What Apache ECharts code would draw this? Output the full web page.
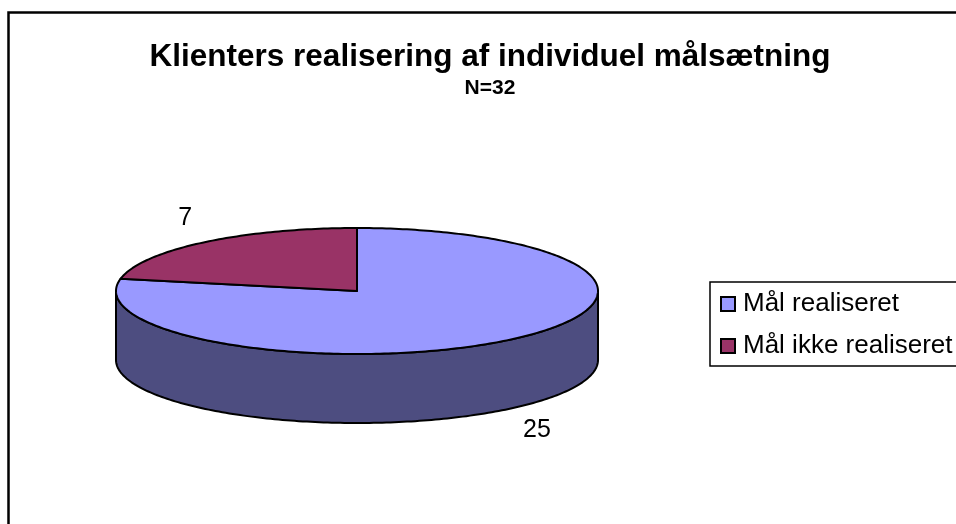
<!DOCTYPE html>
<html>
<head>
<meta charset="utf-8">
<style>html,body{margin:0;padding:0;background:#fff}#c{width:956px;height:524px}</style>
<script src="https://cdn.jsdelivr.net/npm/echarts@6/dist/echarts.min.js"></script>
</head>
<body>
<div id="c"></div>
<script>
const categories = ['Mål realiseret', 'Mål ikke realiseret'];
const values = [25, 7];
const titleText = 'Klienters realisering af individuel målsætning';
const subtitleText = 'N=32';

const colors = ['#9999ff', '#993366'];
const wallColors = ['#4d4d80', '#4d1a33'];
const FONT = '"Liberation Sans", Arial, sans-serif';
const CX = 357, CY = 291, RX = 241, RY = 63, DEPTH = 69;
const labelOffsets = [[27, 21], [-19, -24]];

const total = values.reduce((a, b) => a + b, 0);
const toPoint = (deg, dy) => {
  const a = deg * Math.PI / 180;
  return [CX + RX * Math.sin(a), CY + dy - RY * Math.cos(a)];
};
const arc = (from, to, dy) => {
  const n = Math.max(2, Math.ceil(Math.abs(to - from)));
  const pts = [];
  for (let i = 0; i <= n; i++) pts.push(toPoint(from + (to - from) * i / n, dy));
  return pts;
};
const startOf = i => values.slice(0, i).reduce((a, b) => a + b, 0) / total * 360;

function renderSlice(i) {
  return function (params, api) {
    const v = api.value(0);
    const start = startOf(i), end = start + v / total * 360;
    const children = [];
    const wallFrom = Math.max(start, 90), wallTo = Math.min(end, 270);
    if (wallTo > wallFrom) {
      const wall = arc(wallFrom, wallTo, 0).concat(arc(wallTo, wallFrom, DEPTH));
      children.push({
        type: 'polygon', shape: { points: wall },
        style: { fill: wallColors[i], stroke: '#000', lineWidth: 2, lineJoin: 'round' }
      });
    }
    const top = [[CX, CY]].concat(arc(start, end, 0));
    children.push({
      type: 'polygon', shape: { points: top },
      style: { fill: colors[i], stroke: '#000', lineWidth: 2, lineJoin: 'round' }
    });
    const mid = (start + end) / 2;
    const isFront = mid > 90 && mid < 270;
    const p = toPoint(mid, isFront ? DEPTH : 0);
    children.push({
      type: 'text',
      style: {
        text: String(v), x: p[0] + labelOffsets[i][0], y: p[1] + labelOffsets[i][1],
        fill: '#000', font: '25px ' + FONT, align: 'center', verticalAlign: 'middle'
      }
    });
    return { type: 'group', children };
  };
}

const chart = echarts.init(document.getElementById('c'), null, { renderer: 'canvas' });
chart.setOption({
  animation: false,
  backgroundColor: '#fff',
  color: colors,
  graphic: [{
    type: 'rect', z: -10, silent: true,
    shape: { x: 8.5, y: 12.5, width: 960, height: 530 },
    style: { fill: '#fff', stroke: '#000', lineWidth: 2.5 }
  }],
  title: [
    { text: titleText, left: 485, top: 36, textAlign: 'center',
      textStyle: { fontFamily: FONT, fontWeight: 'bold', fontSize: 31.5, color: '#000' } },
    { text: subtitleText, left: 485, top: 73, textAlign: 'center',
      textStyle: { fontFamily: FONT, fontWeight: 'bold', fontSize: 21, color: '#000' } }
  ],
  legend: {
    orient: 'vertical', left: 710, top: 282,
    data: categories,
    padding: [7, 14, 5, 10], itemGap: 12, itemWidth: 14, itemHeight: 14,
    borderColor: '#000', borderWidth: 1.5, backgroundColor: '#fff',
    icon: 'rect',
    textStyle: { fontFamily: FONT, fontSize: 26, lineHeight: 30, color: '#000', padding: [0, 0, 0, 3] },
    itemStyle: { borderColor: '#000', borderWidth: 2 },
    selectedMode: false
  },
  series: categories.map((name, i) => ({
    type: 'custom', name, coordinateSystem: 'none',
    itemStyle: { color: colors[i] },
    data: [[values[i]]],
    renderItem: renderSlice(i)
  }))
});
</script>
</body>
</html>
